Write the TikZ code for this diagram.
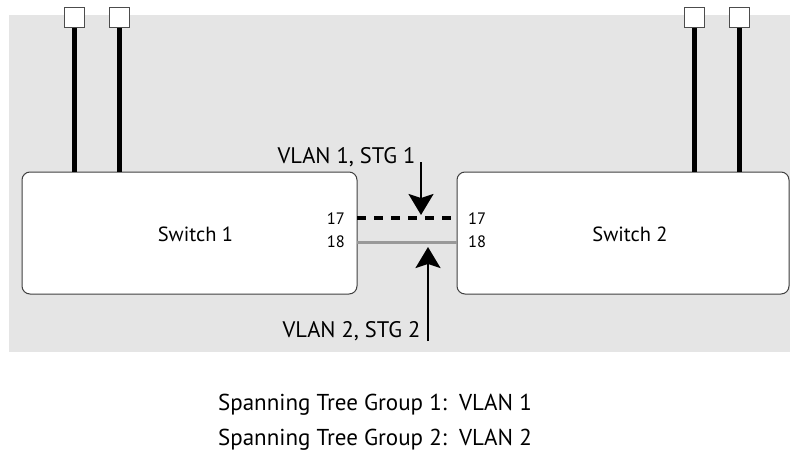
\documentclass[tikz,border=0pt]{standalone}
\usepackage{fontspec}
\setmainfont{PT Sans}
\usetikzlibrary{arrows.meta}
\begin{document}
\begin{tikzpicture}[x=1pt,y=-1pt,
  switchbox/.style={draw=black!75,line width=1pt,fill=white,rounded corners=8pt},
  endsq/.style={draw=black!70,line width=1pt,fill=white,minimum size=20pt,inner sep=0pt},
  cable/.style={line width=5pt,black},
  lbl/.style={font=\fontsize{22.5}{24}\selectfont,inner sep=0pt,anchor=base},
  leg/.style={font=\fontsize{23}{26}\selectfont,inner sep=0pt,anchor=base},
  swl/.style={font=\fontsize{20.5}{24}\selectfont,inner sep=0pt,anchor=base},
  port/.style={font=\fontsize{16.5}{18}\selectfont,inner sep=0pt},
  pointer/.style={line width=2pt,-{Stealth[length=21pt,width=25pt,inset=4pt]}}]
\useasboundingbox (0,0) rectangle (790,453);
\fill[white] (0,0) rectangle (790,453);
\fill[black!10] (9,15) rectangle (790,352);
% switches
\node[switchbox,minimum width=335pt,minimum height=122pt] (s1) at (189.5,233) {};
\node[switchbox,minimum width=332pt,minimum height=122pt] (s2) at (623,233) {};
\node[swl] (s1t) at (195.5,241) {Switch 1};
\node[swl] (s2t) at (630,241) {Switch 2};
% end devices
\node[endsq] (e1) at (74,17.5) {};
\node[endsq] (e2) at (119,17.5) {};
\node[endsq] (e3) at (694,17.5) {};
\node[endsq] (e4) at (739,17.5) {};
\coordinate (c1) at (74,172);
\coordinate (c2) at (119,172);
\coordinate (c3) at (694,172);
\coordinate (c4) at (739,172);
\draw[cable] (e1.south) -- (c1);
\draw[cable] (e2.south) -- (c2);
\draw[cable] (e3.south) -- (c3);
\draw[cable] (e4.south) -- (c4);
% ports
\node[port,anchor=base east] (p17a) at (345,224) {17};
\node[port,anchor=base east] (p18a) at (345,247) {18};
\node[port,anchor=base west] (p17b) at (468,224) {17};
\node[port,anchor=base west] (p18b) at (468,247) {18};
\coordinate (l17a) at (357,218);
\coordinate (l17b) at (457,218);
\coordinate (l18a) at (357,242.5);
\coordinate (l18b) at (457,242.5);
\draw[line width=4pt,dash pattern=on 9pt off 8pt,black] (l17a) -- (l17b);
\draw[line width=3pt,black!40] (l18a) -- (l18b);
% pointers
\node[lbl] (v1) at (346.5,163) {VLAN 1, STG 1};
\node[lbl] (v2) at (351.5,337) {VLAN 2, STG 2};
\coordinate (a1s) at (421,162);
\coordinate (a1e) at (421,215);
\coordinate (a2s) at (428,341);
\coordinate (a2e) at (428,247);
\draw[pointer] (a1s) -- (a1e);
\draw[pointer] (a2s) -- (a2e);
% legend
\node[leg] (g1) at (375,410) {Spanning Tree Group 1:\ \ VLAN 1};
\node[leg] (g2) at (375,445) {Spanning Tree Group 2:\ \ VLAN 2};
\end{tikzpicture}
\end{document}
